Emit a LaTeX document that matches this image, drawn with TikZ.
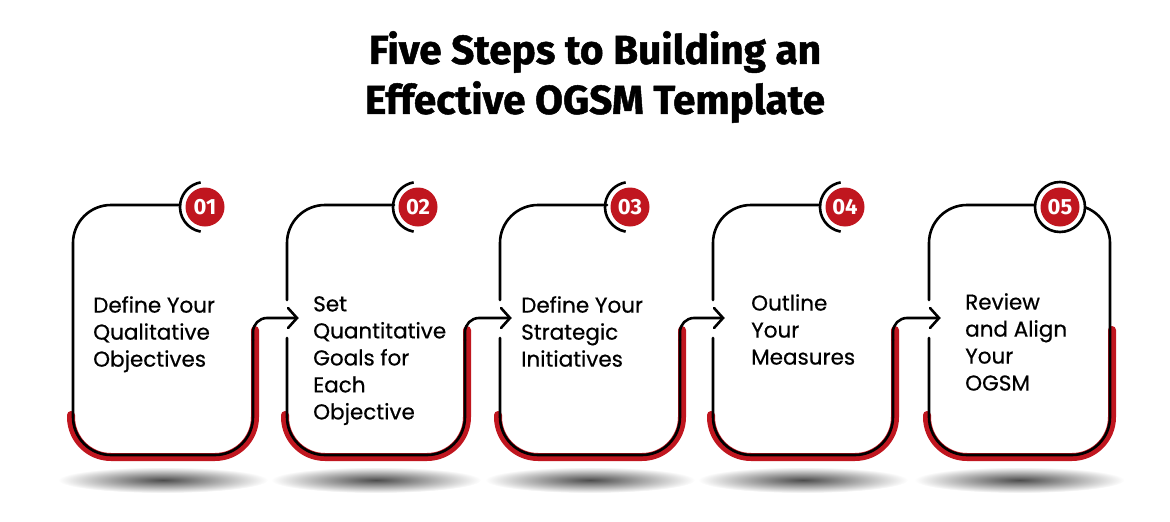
\documentclass[tikz,border=0pt]{standalone}
\usepackage{fontspec}
\setmainfont{Poppins}[FakeBold=0.6]
\newfontfamily\titlefont{Fira Sans}[FakeBold=1.2]
\newfontfamily\numfont{Fira Sans}
\definecolor{ogred}{HTML}{C0161F}
\begin{document}
\begin{tikzpicture}[x=1pt,y=-1pt,
  blk/.style={draw=black,line width=2.6pt,line cap=round,rounded corners=38pt},
  redband/.style={draw=ogred,line width=8pt,line cap=round,rounded corners=40pt},
  numc/.style={circle,fill=ogred,minimum size=39pt,inner sep=0pt,text=white,font=\numfont\bfseries\fontsize{22}{22}\selectfont},
  steptext/.style={anchor=north west,align=left,inner sep=0pt,font=\fontsize{21.5}{27}\selectfont},
  shadowell/.style={inner color=black!70,outer color=white}]
\useasboundingbox (0,0) rectangle (1170,522);
\node[font=\titlefont\bfseries\fontsize{40.5}{50}\selectfont,align=center] (title) at (595,77) {Five Steps to Building an\\Effective OGSM Template};
% shadows
\foreach \L/\R in {73/253,287/465,500/680,713/893,929/1110}{
  \shade[shadowell] ({(\L+\R)/2},480) ellipse[x radius=105,y radius=13];
}
% red bands
\foreach \L/\R in {73/253,287/465,500/680,713/893,929/1110}{
  \draw[redband] (\L-2,415) -- (\L-2,457) -- (\R+2,457) -- (\R+2,330);
}
% card 1
\draw[blk] (180,205) -- (73,205) -- (73,455) -- (253,455) -- (253,340);
% cards 2-4
\foreach \L/\R in {287/465,500/680,713/893}{
  \draw[blk] ({\L+107},205) -- (\L,205) -- (\L,300);
  \draw[blk] (\L,338) -- (\L,455) -- (\R,455) -- (\R,340);
}
% card 5
\draw[blk] (929,300) -- (929,205) -- (1110,205) -- (1110,455) -- (929,455) -- (929,338);
% connectors
\foreach \R/\N in {253/287,465/500,680/713,893/929}{
  \draw[draw=black,line width=2.6pt,line cap=round,rounded corners=14pt] (\R,340) -- (\R,318) -- (\N+9,318);
  \draw[draw=black,line width=2.6pt,line cap=round,line join=miter] (\N+1,308) -- (\N+10,318) -- (\N+1,328);
}
% number circles
\foreach \C/\n in {205/1,418/2,630/3,845/4}{
  \draw[black,line width=2.6pt] (\C,207) ++(100:25) arc[start angle=100,end angle=260,radius=25];
  \node[numc] (n\n) at (\C,207) {0\n};
}
\draw[black,line width=2.6pt,fill=white] (1060,207) circle[radius=25];
\node[numc] (n5) at (1060,207) {05};
% texts
\node[steptext] (t1) at (93,296) {Define Your\\Qualitative\\Objectives};
\node[steptext] (t2) at (313,296) {Set\\Quantitative\\Goals for\\Each\\Objective};
\node[steptext] (t3) at (521,296) {Define Your\\Strategic\\Initiatives};
\node[steptext] (t4) at (751,294) {Outline\\Your\\Measures};
\node[steptext] (t5) at (965,293) {Review\\and Align\\Your\\OGSM};
\end{tikzpicture}
\end{document}
